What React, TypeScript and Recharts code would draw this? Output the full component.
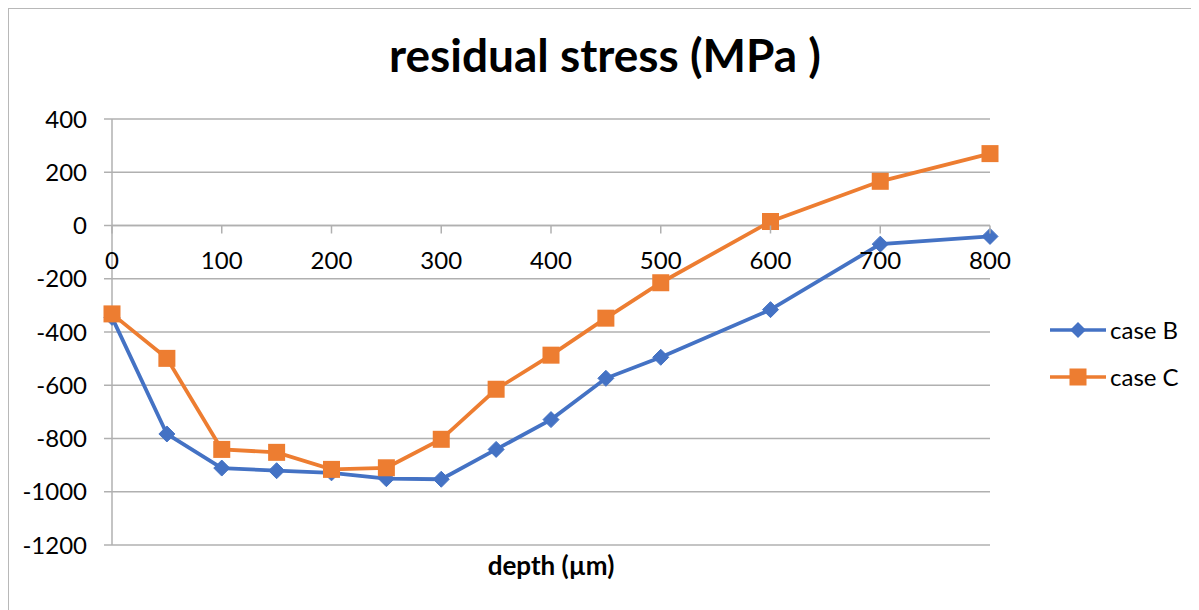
import React from 'react';
import { LineChart, Line, XAxis, YAxis, CartesianGrid, ReferenceLine } from 'recharts';

const depths = [0, 50, 100, 150, 200, 250, 300, 350, 400, 450, 500, 600, 700, 800];
const caseB = [-345, -783, -911, -921, -929, -951, -953, -841, -729, -574, -495, -316, -70, -41];
const caseC = [-332, -499, -841, -852, -916, -910, -803, -615, -487, -348, -215, 15, 166, 270];
const xTicks = [0, 100, 200, 300, 400, 500, 600, 700, 800];
const yTicks = [-1200, -1000, -800, -600, -400, -200, 0, 200, 400];
const seriesNames = ['case B', 'case C'];
const colors = ['#4472C4', '#ED7D31'];

const data = depths.map((d, i) => ({ depth: d, caseB: caseB[i], caseC: caseC[i] }));

const W = 1182;
const H = 600;
const M = { top: 110, right: 201, left: 0, bottom: 0 };
const X_AXIS_H = 64;
const Y_AXIS_W = 103;
const Y_MIN = -1200;
const Y_MAX = 400;
const PLOT_H = H - M.top - M.bottom - X_AXIS_H;
const GRID = '#b0b0b0';
const FONT = 'Lato, sans-serif';

const Diamond = (props: any) => {
  const { cx, cy, index } = props;
  if (cx == null || cy == null) return <g key={index} />;
  const r = 8;
  return (
    <path key={index} d={`M${cx},${cy - r}L${cx + r},${cy}L${cx},${cy + r}L${cx - r},${cy}Z`} fill={colors[0]} stroke={colors[0]} strokeWidth={1} />
  );
};

const Square = (props: any) => {
  const { cx, cy, index } = props;
  if (cx == null || cy == null) return <g key={index} />;
  const s = 8.5;
  return <rect key={index} x={cx - s} y={cy - s} width={2 * s} height={2 * s} fill={colors[1]} />;
};

const XTick = (props: any) => {
  const { x, y, payload } = props;
  const axisY = y - PLOT_H * ((0 - Y_MIN) / (Y_MAX - Y_MIN));
  return (
    <g>
      <line x1={x} x2={x} y1={axisY} y2={axisY + 8} stroke={GRID} strokeWidth={1.5} />
      <text x={x} y={axisY + 35} dy="0.36em" textAnchor="middle" fill="#000" fontSize={24} fontFamily={FONT}>
        {payload.value}
      </text>
    </g>
  );
};

const LegendBox = () => (
  <div style={{ position: 'absolute', left: 1041, top: 297, fontFamily: FONT }}>
    {seriesNames.map((n, i) => (
      <div key={n} style={{ display: 'flex', alignItems: 'center', height: 47 }}>
        <svg width={56} height={20} style={{ marginRight: 4 }}>
          <line x1={0} x2={56} y1={10} y2={10} stroke={colors[i]} strokeWidth={3.5} />
          {i === 0 ? (
            <path d="M28,2L36,10L28,18L20,10Z" fill={colors[0]} />
          ) : (
            <rect x={19.5} y={1.5} width={17} height={17} fill={colors[1]} />
          )}
        </svg>
        <span style={{ fontSize: 24, color: '#000' }}>{n}</span>
      </div>
    ))}
  </div>
);

export default function App() {
  return (
    <div style={{ position: 'relative', width: W, height: H + 2, borderLeft: '1px solid #b8b8b8', borderTop: '1px solid #b8b8b8', fontFamily: FONT }}>
      <div style={{ position: 'absolute', left: 0, top: 23, width: 1192, textAlign: 'center', fontSize: 46, lineHeight: '46px', fontWeight: 700, color: '#000', fontFamily: FONT }}>
        residual stress (MPa )
      </div>
      <LineChart width={W} height={H} data={data} margin={M}>
        <CartesianGrid vertical={false} stroke={GRID} strokeWidth={1.5} />
        <XAxis
          dataKey="depth"
          type="number"
          domain={[0, 800]}
          ticks={xTicks}
          axisLine={false}
          tickLine={false}
          tickSize={0}
          tickMargin={0}
          height={X_AXIS_H}
          tick={<XTick />}
          interval={0}
          label={(p: any) => {
            const vb = p.viewBox;
            return (
              <text x={vb.x + vb.width / 2} y={vb.y + 30} textAnchor="middle" fontSize={26} fontWeight={700} fontFamily={FONT} fill="#000">
                depth (µm)
              </text>
            );
          }}
        />
        <YAxis
          type="number"
          domain={[Y_MIN, Y_MAX]}
          ticks={yTicks}
          width={Y_AXIS_W}
          axisLine={{ stroke: GRID, strokeWidth: 1.5 }}
          tickLine={{ stroke: GRID, strokeWidth: 1.5 }}
          tickSize={8}
          tickMargin={17}
          interval={0}
          tick={{ fill: '#000', fontSize: 24, fontFamily: FONT }}
        />
        <ReferenceLine y={0} stroke={GRID} strokeWidth={1.5} />
        <Line dataKey="caseB" name="case B" stroke={colors[0]} strokeWidth={3.8} dot={Diamond} isAnimationActive={false} />
        <Line dataKey="caseC" name="case C" stroke={colors[1]} strokeWidth={3.8} dot={Square} isAnimationActive={false} />
      </LineChart>
      <LegendBox />
    </div>
  );
}
